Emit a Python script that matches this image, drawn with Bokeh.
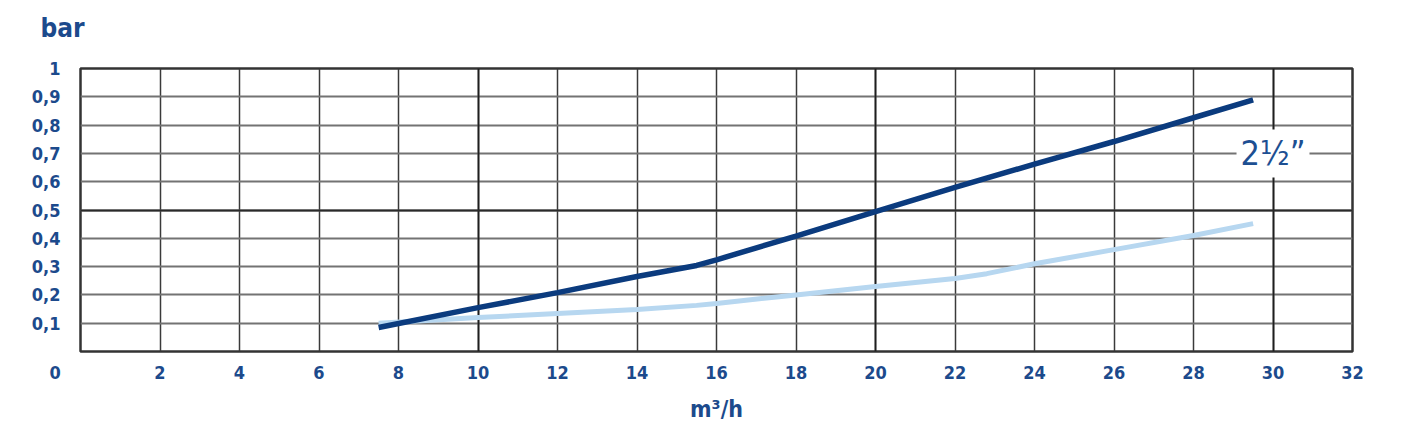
from bokeh.plotting import figure
from bokeh.models import Range1d, FixedTicker, Grid, Label, CustomJSTickFormatter, Title
from bokeh.embed import file_html
from bokeh.resources import INLINE

# ---- data ----
x_ticks = [0, 2, 4, 6, 8, 10, 12, 14, 16, 18, 20, 22, 24, 26, 28, 30, 32]
y_ticks = [0.1, 0.2, 0.3, 0.4, 0.5, 0.6, 0.7, 0.8, 0.9, 1.0]
major_x = [10, 20, 30]
major_y = [0.5]

dark_x = [7.5, 10, 12, 14, 15.5, 16, 18, 20, 22, 24, 26, 28, 29.5]
dark_y = [0.085, 0.155, 0.208, 0.265, 0.304, 0.324, 0.408, 0.494, 0.580, 0.662, 0.742, 0.826, 0.889]

light_x = [7.5, 10, 12, 14, 15.5, 16, 18, 20, 22, 22.8, 24, 26, 28, 29.5]
light_y = [0.100, 0.120, 0.134, 0.148, 0.163, 0.170, 0.200, 0.230, 0.258, 0.275, 0.310, 0.360, 0.410, 0.452]

size_label = "2½”"
size_label_x = 30
size_label_y = 0.7
x_title = "m³/h"
y_title = "bar"

BLUE_TXT = "#1c4a8c"
FONT = "'DejaVu Sans Condensed', 'Roboto Condensed', 'Liberation Sans Narrow', Roboto"

p = figure(frame_width=1272, frame_height=283, output_backend="svg", toolbar_location=None,
           x_range=Range1d(0, 32), y_range=Range1d(0, 1))
p.min_border_left = 80
p.min_border_right = 51
p.min_border_top = 68
p.min_border_bottom = 78
p.background_fill_color = "white"
p.border_fill_color = "white"
p.outline_line_color = "#333333"
p.outline_line_width = 2.5

# spacer between the frame and the "bar" title
p.add_layout(Title(text="\u00a0", text_font_size="1px", standoff=23), "above")

# title "bar"
p.title.text = y_title
p.title.align = "left"
p.title.offset = -40
p.title.standoff = 0
p.title.vertical_align = "bottom"
p.title.text_font = FONT
p.title.text_font_style = "bold"
p.title.text_font_size = "26px"
p.title.text_color = BLUE_TXT

# axes
xa = p.xaxis[0]
xa.ticker = FixedTicker(ticks=x_ticks)
xa.formatter = CustomJSTickFormatter(
    code="return tick == 0 ? '0' + '\\u00a0'.repeat(9) : tick.toFixed(0);")
ya = p.yaxis[0]
ya.ticker = FixedTicker(ticks=y_ticks)
ya.formatter = CustomJSTickFormatter(
    code="return tick >= 0.999 ? '1' : tick.toFixed(1).replace('.', ',');")
for ax in (xa, ya):
    ax.axis_line_color = None
    ax.major_tick_line_color = None
    ax.minor_tick_line_color = None
    ax.major_tick_out = 0
    ax.major_tick_in = 0
    ax.major_label_text_font = FONT
    ax.major_label_text_font_style = "bold"
    ax.major_label_text_font_size = "18px"
    ax.major_label_text_color = BLUE_TXT
xa.major_label_standoff = 10
ya.major_label_standoff = 20
xa.axis_label = x_title
xa.axis_label_standoff = 10
xa.axis_label_text_font = FONT
xa.axis_label_text_font_style = "bold"
xa.axis_label_text_font_size = "23px"
xa.axis_label_text_color = BLUE_TXT

# grids
p.xgrid.ticker = FixedTicker(ticks=x_ticks)
p.xgrid.grid_line_color = "#3a3a3a"
p.xgrid.grid_line_width = 1.5
p.ygrid.ticker = FixedTicker(ticks=y_ticks)
p.ygrid.grid_line_color = "#737373"
p.ygrid.grid_line_width = 2
p.add_layout(Grid(dimension=0, ticker=FixedTicker(ticks=major_x), grid_line_color="#1e1e1e", grid_line_width=1.8))
p.add_layout(Grid(dimension=1, ticker=FixedTicker(ticks=major_y), grid_line_color="#2a2a2a", grid_line_width=2.2))

# curves
p.line(light_x, light_y, line_color="#b7d7f0", line_width=5)
p.line(dark_x, dark_y, line_color="#0b3b7e", line_width=5.5)

# size label
p.add_layout(Label(x=size_label_x, y=size_label_y, text=size_label, text_align="center",
                   text_baseline="middle", text_font=FONT, text_font_style="normal",
                   text_font_size="34px", text_color="#1d4f92",
                   background_fill_color="white", padding=4))

open("out.html", "w").write(file_html(p, INLINE))
